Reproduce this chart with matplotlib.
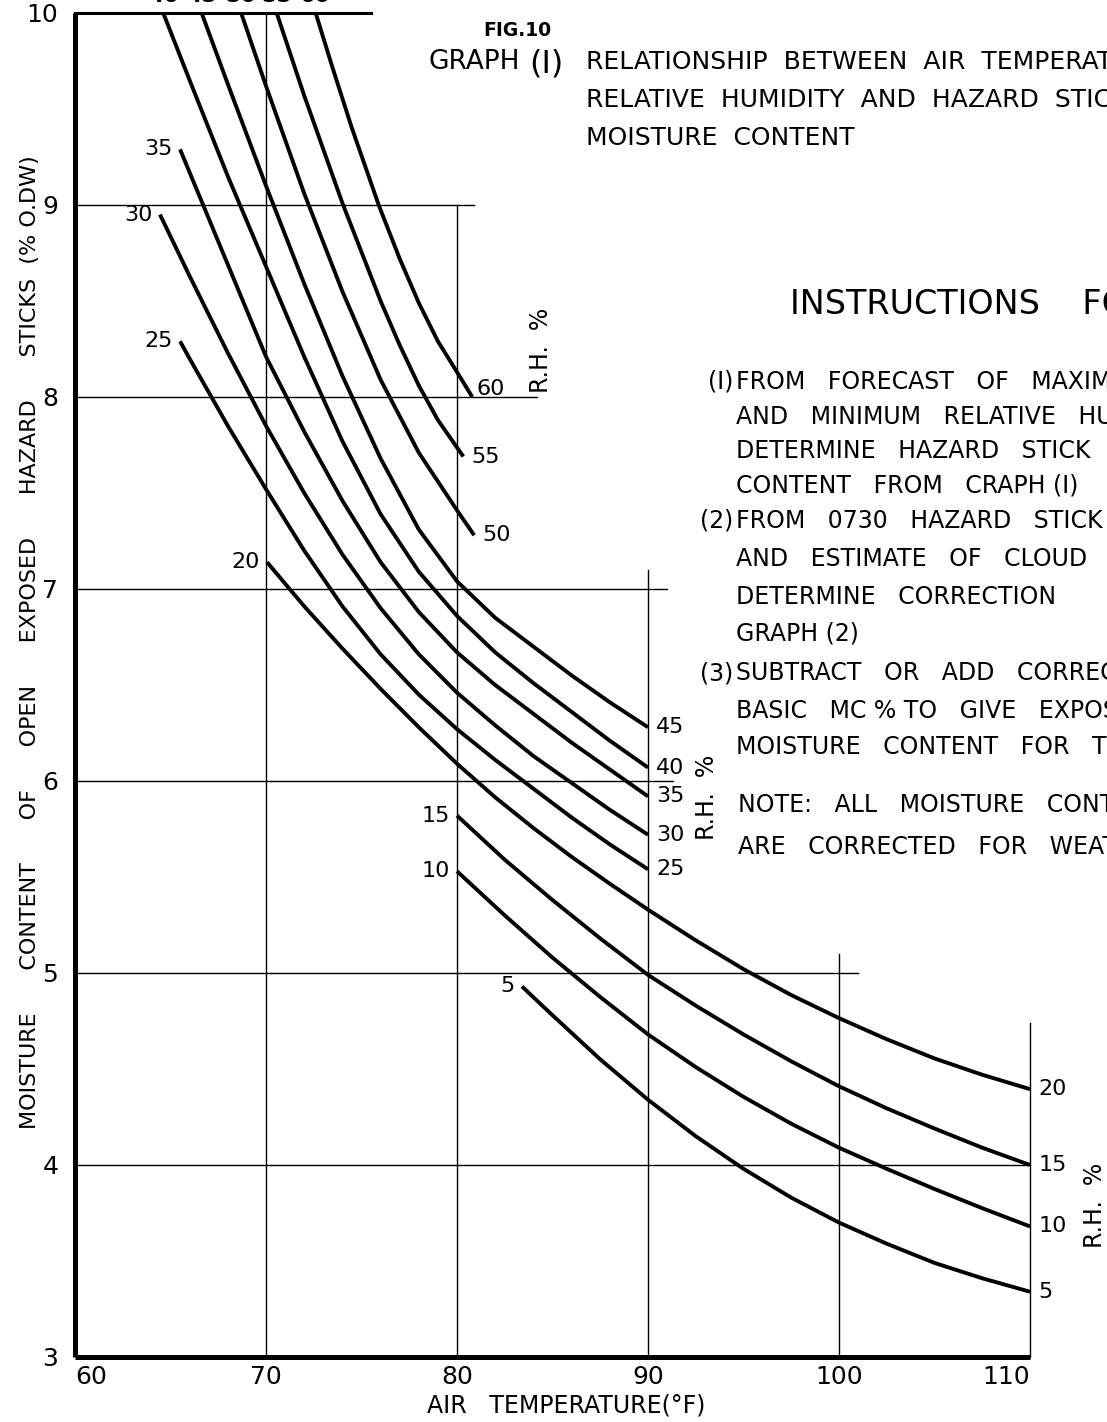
import matplotlib.pyplot as plt

# hazard stick moisture content (% O.D.W.) against air temperature (deg F), one curve per R.H. %
t_rh60 = [72.6, 73.5, 74.5, 75.9, 77.0, 78.0, 79.0, 80.0, 80.8]
mc_rh60 = [10.0, 9.71, 9.40, 9.0, 8.72, 8.49, 8.29, 8.13, 8.0]

t_rh55 = [70.56, 72.0, 74.0, 76.0, 77.0, 78.0, 79.0, 80.33]
mc_rh55 = [10.0, 9.57, 9.01, 8.50, 8.27, 8.06, 7.88, 7.69]

t_rh50 = [68.7, 70.0, 72.0, 74.0, 76.0, 78.0, 80.0, 80.9]
mc_rh50 = [10.0, 9.62, 9.06, 8.55, 8.09, 7.71, 7.41, 7.28]

t_rh45 = [66.63, 68.0, 70.0, 72.0, 74.0, 76.0, 78.0, 80.0, 82.0, 84.0, 86.0, 88.0, 90.0]
mc_rh45 = [10.0, 9.63, 9.10, 8.59, 8.11, 7.68, 7.31, 7.04, 6.85, 6.70, 6.55, 6.41, 6.28]

t_rh40 = [64.62, 66.0, 68.0, 70.0, 72.0, 74.0, 76.0, 78.0, 80.0, 82.0, 84.0, 86.0, 88.0, 90.0]
mc_rh40 = [10.0, 9.65, 9.15, 8.68, 8.21, 7.77, 7.39, 7.09, 6.86, 6.67, 6.51, 6.36, 6.21, 6.07]

t_rh35 = [65.5, 66.0, 68.0, 70.0, 72.0, 74.0, 76.0, 78.0, 80.0, 82.0, 84.0, 86.0, 88.0, 90.0]
mc_rh35 = [9.29, 9.17, 8.69, 8.21, 7.82, 7.46, 7.14, 6.88, 6.67, 6.50, 6.35, 6.20, 6.06, 5.92]

t_rh30 = [64.45, 66.0, 68.0, 70.0, 72.0, 74.0, 76.0, 78.0, 80.0, 82.0, 84.0, 86.0, 88.0, 90.0]
mc_rh30 = [8.95, 8.63, 8.23, 7.85, 7.50, 7.18, 6.90, 6.66, 6.46, 6.29, 6.13, 5.99, 5.85, 5.72]

t_rh25 = [65.5, 66.0, 68.0, 70.0, 72.0, 74.0, 76.0, 78.0, 80.0, 82.0, 84.0, 86.0, 88.0, 90.0]
mc_rh25 = [8.29, 8.20, 7.85, 7.52, 7.20, 6.91, 6.66, 6.45, 6.27, 6.11, 5.96, 5.81, 5.67, 5.54]

t_rh20 = [70.05, 72.0, 74.0, 76.0, 78.0, 80.0, 82.0, 84.0, 86.0, 88.0, 90.0,
          92.5, 95.0, 97.5, 100.0, 102.5, 105.0, 107.5, 110.0]
mc_rh20 = [7.14, 6.91, 6.69, 6.48, 6.28, 6.09, 5.915, 5.755, 5.605, 5.465, 5.33,
           5.17, 5.02, 4.885, 4.765, 4.655, 4.555, 4.47, 4.395]

t_rh15 = [80.0, 82.5, 85.0, 87.5, 90.0, 92.5, 95.0, 97.5, 100.0, 102.5, 105.0, 107.5, 110.0]
mc_rh15 = [5.82, 5.59, 5.38, 5.18, 4.99, 4.83, 4.68, 4.54, 4.41, 4.295, 4.19, 4.09, 4.0]

t_rh10 = [80.0, 82.5, 85.0, 87.5, 90.0, 92.5, 95.0, 97.5, 100.0, 102.5, 105.0, 107.5, 110.0]
mc_rh10 = [5.53, 5.30, 5.08, 4.875, 4.68, 4.51, 4.355, 4.215, 4.09, 3.98, 3.875, 3.775, 3.68]

t_rh5 = [83.4, 85.0, 87.5, 90.0, 92.5, 95.0, 97.5, 100.0, 102.5, 105.0, 107.5, 110.0]
mc_rh5 = [4.93, 4.78, 4.55, 4.34, 4.15, 3.98, 3.83, 3.70, 3.59, 3.49, 3.41, 3.34]

# partial grid: horizontal lines run from 60 F to the given temperature,
# vertical lines run from MC 3 up to the given value
hgrid_mc = [4, 5, 6, 7, 8, 9, 10]
hgrid_end = [110.0, 101.0, 91.3, 91.0, 84.2, 80.9, 75.5]
vgrid_t = [70, 80, 90, 100, 110]
vgrid_top = [10.0, 9.0, 7.1, 5.1, 4.74]

x_ticks = [60, 70, 80, 90, 100, 110]
y_ticks = [3, 4, 5, 6, 7, 8, 9, 10]

curves = {
    60: (t_rh60, mc_rh60), 55: (t_rh55, mc_rh55), 50: (t_rh50, mc_rh50),
    45: (t_rh45, mc_rh45), 40: (t_rh40, mc_rh40), 35: (t_rh35, mc_rh35),
    30: (t_rh30, mc_rh30), 25: (t_rh25, mc_rh25), 20: (t_rh20, mc_rh20),
    15: (t_rh15, mc_rh15), 10: (t_rh10, mc_rh10), 5: (t_rh5, mc_rh5),
}
top_labelled = [40, 45, 50, 55, 60]

W, H = 1107, 1422
fig = plt.figure(figsize=(W / 100, H / 100), dpi=100)
ax = fig.add_axes([75 / W, 65 / H, 955 / W, 1344 / H])
ax.set_xlim(60, 110)
ax.set_ylim(3, 10)

for s in ['top', 'right']:
    ax.spines[s].set_visible(False)
for s in ['left', 'bottom']:
    ax.spines[s].set_linewidth(3.6)
    ax.spines[s].set_capstyle('butt')

ax.set_xticks(x_ticks)
ax.set_xticklabels([str(v) for v in x_ticks])
ax.set_yticks(y_ticks)
ax.set_yticklabels([str(v) for v in y_ticks])
ax.tick_params(length=0, labelsize=18)
ax.tick_params(axis='x', pad=6)
ax.tick_params(axis='y', pad=12)
xl = ax.get_xticklabels()
xl[0].set_horizontalalignment('left')
xl[-1].set_horizontalalignment('right')

for mc, end in zip(hgrid_mc, hgrid_end):
    lw = 2.2 if mc == 10 else 1.0
    ax.plot([60, end], [mc, mc], color='black', lw=lw, clip_on=False, zorder=1)
for t, top in zip(vgrid_t, vgrid_top):
    ax.plot([t, t], [3, top], color='black', lw=1.0, clip_on=False, zorder=1)

lab = dict(fontsize=16, color='black', clip_on=False)
for rh, (t, mc) in curves.items():
    ax.plot(t, mc, color='black', lw=2.8, solid_capstyle='butt',
            solid_joinstyle='round', clip_on=False, zorder=3)
    # label at the start of each curve
    if rh in top_labelled:
        ax.annotate(str(rh), (t[0], mc[0]), xytext=(0, 5), textcoords='offset points',
                    ha='center', va='bottom', fontweight='bold', **lab)
    else:
        ax.annotate(str(rh), (t[0], mc[0]), xytext=(-5, 0), textcoords='offset points',
                    ha='right', va='center', **lab)
    # label at the end of each curve
    dy = 6 if rh == 60 else 0
    dx = 3 if rh == 60 else 6
    ax.annotate(str(rh), (t[-1], mc[-1]), xytext=(dx, dy), textcoords='offset points',
                ha='left', va='center', **lab)


def ftext(x, y, s, **kw):
    fig.text(x / W, 1 - y / H, s, **kw)


rh_kw = dict(fontsize=17, rotation=90, ha='center', va='center')
ftext(541, 350, 'R.H.  %', **rh_kw)
ftext(707, 797, 'R.H.  %', **rh_kw)
ftext(1095, 1205, 'R.H.  %', **rh_kw)

ftext(30, 642, 'MOISTURE      CONTENT      OF      OPEN      EXPOSED      HAZARD      STICKS  (% O.DW)',
      fontsize=16, rotation=90, ha='center', va='center')
ftext(566, 1405, 'AIR   TEMPERATURE(°F)', fontsize=17, ha='center', va='center')

# heading
ftext(483, 30, 'FIG.10', fontsize=13.5, fontweight='bold', ha='left', va='center')
ftext(428, 62, 'GRAPH', fontsize=19, ha='left', va='center')
ftext(546, 64, '(I)', fontsize=23, ha='center', va='center')
head = ['RELATIONSHIP  BETWEEN  AIR  TEMPERATURE,',
        'RELATIVE  HUMIDITY  AND  HAZARD  STICK',
        'MOISTURE  CONTENT']
for i, s in enumerate(head):
    ftext(586, 62 + 38 * i, s, fontsize=18, ha='left', va='center')

ftext(790, 305, 'INSTRUCTIONS    FOR    USE', fontsize=24, ha='left', va='center')

steps = [
    ('(I)', 382, 'FROM   FORECAST   OF   MAXIMUM   TEMPERATURE'),
    ('', 417, 'AND   MINIMUM   RELATIVE   HUMIDITY'),
    ('', 451, 'DETERMINE   HAZARD   STICK   MOISTURE'),
    ('', 485, 'CONTENT   FROM   CRAPH (I)'),
    ('(2)', 521, 'FROM   0730   HAZARD   STICK   READING'),
    ('', 559, 'AND   ESTIMATE   OF   CLOUD   COVER'),
    ('', 597, 'DETERMINE   CORRECTION        FROM'),
    ('', 634, 'GRAPH (2)'),
    ('(3)', 673, 'SUBTRACT   OR   ADD   CORRECTION   TO'),
    ('', 711, 'BASIC   MC % TO   GIVE   EXPOSED   STICK'),
    ('', 747, 'MOISTURE   CONTENT   FOR   THE   DAY'),
]
for num, y, s in steps:
    if num:
        ftext(733, y, num, fontsize=17, ha='right', va='center')
    ftext(736, y, s, fontsize=17, ha='left', va='center')
ftext(738, 805, 'NOTE:   ALL   MOISTURE   CONTENTS', fontsize=17, ha='left', va='center')
ftext(738, 847, 'ARE   CORRECTED   FOR   WEATHERING', fontsize=17, ha='left', va='center')

fig.savefig('out.png', dpi=100)
